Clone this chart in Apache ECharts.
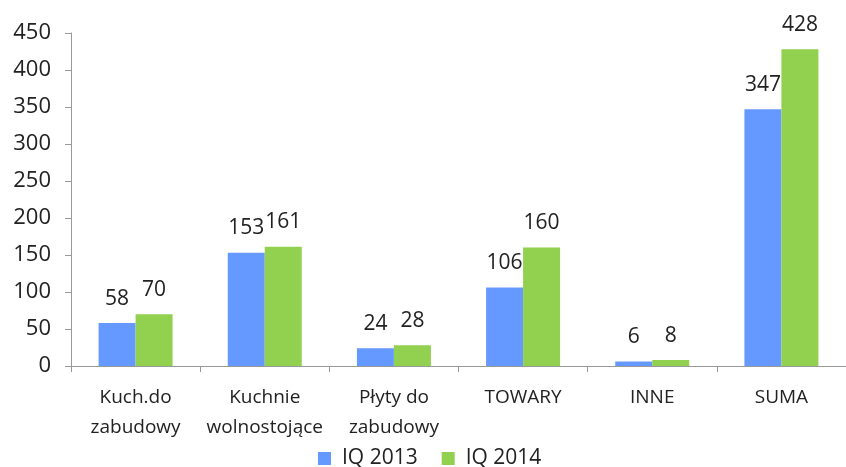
<!DOCTYPE html>
<html>
<head>
<meta charset="utf-8">
<script src="https://cdn.jsdelivr.net/npm/echarts@6/dist/echarts.min.js"></script>
<style>
  html, body { margin: 0; padding: 0; background: #fff; }
  #main { width: 846px; height: 467px; }
</style>
</head>
<body>
<div id="main"></div>
<script>
var categories = ['Kuch.do\nzabudowy', 'Kuchnie\nwolnostojące', 'Płyty do\nzabudowy', 'TOWARY', 'INNE', 'SUMA'];
var seriesNames = ['IQ 2013', 'IQ 2014'];
var values2013 = [58, 153, 24, 106, 6, 347];
var values2014 = [70, 161, 28, 160, 8, 428];
var yTicks = [0, 50, 100, 150, 200, 250, 300, 350, 400, 450];

var fontName = '"Open Sans", sans-serif';
var myChart = echarts.init(document.getElementById('main'));

function barSeries(name, data, color) {
    return {
        name: name,
        type: 'bar',
        data: data,
        barWidth: 37,
        barGap: '0%',
        itemStyle: { color: color },
        label: {
            show: true,
            position: 'top',
            distance: 14,
            color: '#222',
            fontSize: 21,
            fontFamily: fontName
        }
    };
}

var option = {
    animation: false,
    textStyle: { fontFamily: fontName },
    grid: { left: 71, right: -3, top: 33, bottom: 101 },
    legend: {
        data: seriesNames,
        top: 443,
        left: 313,
        itemWidth: 13,
        itemHeight: 13,
        itemGap: 24,
        icon: 'rect',
        textStyle: { fontSize: 21, color: '#222', fontFamily: fontName, padding: [0, 0, 0, 6] }
    },
    xAxis: {
        type: 'category',
        data: categories,
        axisLine: { lineStyle: { color: '#999' } },
        axisTick: { show: true, length: 6, lineStyle: { color: '#999' } },
        axisLabel: {
            color: '#222',
            fontSize: 19,
            lineHeight: 30,
            margin: 17,
            interval: 0,
            fontFamily: fontName
        }
    },
    yAxis: {
        type: 'value',
        min: yTicks[0],
        max: yTicks[yTicks.length - 1],
        interval: 50,
        axisLine: { show: true, lineStyle: { color: '#999' } },
        axisTick: { show: true, length: 6, lineStyle: { color: '#999' } },
        splitLine: { show: false },
        axisLabel: { color: '#222', fontSize: 22, margin: 20, fontFamily: fontName }
    },
    series: [
        barSeries(seriesNames[0], values2013, '#6699ff'),
        barSeries(seriesNames[1], values2014, '#92d050')
    ]
};

myChart.setOption(option);
</script>
</body>
</html>
